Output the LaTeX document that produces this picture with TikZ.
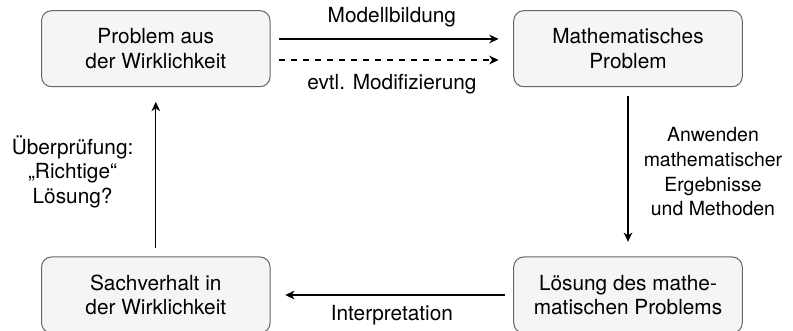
\documentclass[tikz,border=0pt]{standalone}
\usepackage{fontspec}
\setmainfont{TeX Gyre Heros}
\usetikzlibrary{arrows.meta}
\usetikzlibrary{positioning}
\definecolor{boxgray}{RGB}{245,245,245}
\definecolor{linegray}{RGB}{102,102,102}

\begin{document}
\begin{tikzpicture}[x=0.75pt,y=-0.75pt]
  \tikzset{
    stepbox/.style={draw=linegray,fill=boxgray,line width=0.75pt,rounded corners=7.5pt,
      minimum width=171.4pt,minimum height=57pt,align=center,
      font=\fontsize{15.6}{18.5}\selectfont},
    flow/.style={-{Stealth[length=7pt,width=6.5pt,inset=2.2pt]},line width=1pt,
      shorten <=6.5pt,shorten >=11pt},
    lbl/.style={font=\fontsize{15.6}{18.5}\selectfont,align=center},
  }
  \useasboundingbox (0,0) rectangle (793,331);
  %BOXES
  \node[stepbox] (real) at (155.8,48.7) {Problem aus\\der Wirklichkeit};
  \node[stepbox] (math) at (628,48.7) {Mathematisches\\Problem};
  \node[stepbox] (sol) at (628,295) {Lösung des mathe-\\matischen Problems};
  \node[stepbox] (fact) at (155.8,295) {Sachverhalt in\\der Wirklichkeit};
  %MODELLBILDUNG
  \draw[flow] ([yshift=7.3pt]real.east) -- ([yshift=7.3pt]math.west)
    node[lbl,midway,above=5pt] (model) {Modellbildung};
  %MODIFIZIERUNG
  \draw[flow,dash pattern=on 4.5pt off 4.5pt] ([yshift=-8.5pt]real.east) -- ([yshift=-8.5pt]math.west)
    node[lbl,midway,below=6.5pt] (modif) {evtl. Modifizierung};
  %ANWENDEN
  \draw[flow] (math.south) -- (sol.north)
    node[lbl,font=\fontsize{14.6}{18.4}\selectfont,midway,right=8pt] (apply) {Anwenden\\mathematischer\\Ergebnisse\\und Methoden};
  %INTERPRETATION
  \draw[flow] (sol.west) -- (fact.east)
    node[lbl,midway,below=4pt] (interp) {Interpretation};
  %UEBERPRUEFUNG
  \draw[flow] (fact.north) -- (real.south)
    node[lbl,midway,left=13pt] (check) {Überprüfung:\\„Richtige“\\Lösung?};
\end{tikzpicture}
\end{document}
